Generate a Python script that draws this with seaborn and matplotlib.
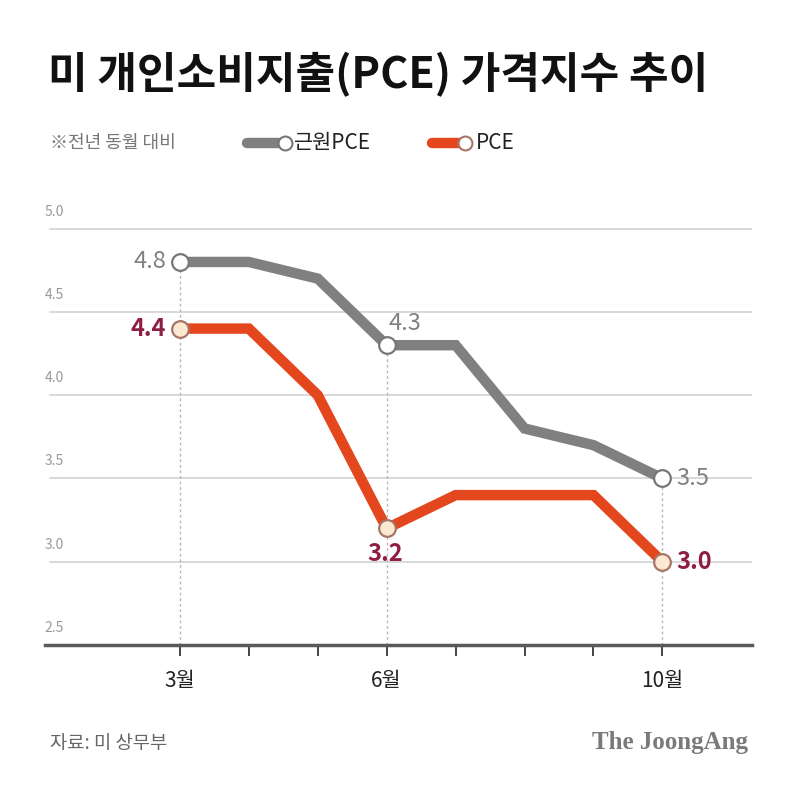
import matplotlib
matplotlib.use("Agg")
import matplotlib.pyplot as plt
import seaborn as sns
import pandas as pd
from matplotlib.lines import Line2D
import matplotlib.transforms as mtransforms

months = [3, 4, 5, 6, 7, 8, 9, 10]
core_pce = [4.8, 4.8, 4.7, 4.3, 4.3, 3.8, 3.7, 3.5]
pce = [4.4, 4.4, 4.0, 3.2, 3.4, 3.4, 3.4, 3.0]
series_names = ["근원PCE", "PCE"]
xtick_months = [3, 6, 10]
xtick_labels = ["3월", "6월", "10월"]
yticks = [2.5, 3.0, 3.5, 4.0, 4.5, 5.0]
label_months = [3, 6, 10]

title = "미 개인소비지출(PCE) 가격지수 추이"
subtitle = "※전년 동월 대비"
source = "자료: 미 상무부"
brand = "The JoongAng"

GREY = "#808080"
ORANGE = "#e4461d"
DARKRED = "#8e1f42"

sns.set_theme(style="white")
plt.rcParams['font.family'] = ['Noto Sans CJK KR', 'DejaVu Sans']

df = pd.DataFrame({
    "month": months * 2,
    "value": core_pce + pce,
    "series": [series_names[0]] * len(months) + [series_names[1]] * len(months),
})

fig = plt.figure(figsize=(8, 7.92), dpi=100)
ax = fig.add_axes([0.056, 1 - 645 / 792, 0.94 - 0.056, (645 - 212) / 792])

ax.set_xlim(1.04, 11.3)
ax.set_ylim(2.5, 5.1)

blend = mtransforms.blended_transform_factory(ax.transAxes, ax.transData)
# gridlines
for y in yticks[1:]:
    ax.axhline(y, xmin=0.007, xmax=1, color="#d6d6d6", lw=1.3, zorder=0)
for y in yticks:
    ax.text(0.0, y + 0.06, f"{y:.1f}", transform=blend,
            fontsize=10, color="#9a9a9a", ha="left", va="bottom")

# dotted verticals
for m in label_months:
    i = months.index(m)
    ax.plot([m, m], [2.5, core_pce[i]], color="#b8b8b8", lw=1, ls=(0, (2, 2)), zorder=1)

sns.lineplot(data=df, x="month", y="value", hue="series",
             palette={series_names[0]: GREY, series_names[1]: ORANGE},
             linewidth=7.5, ax=ax, legend=False, zorder=2)
for line in ax.get_lines()[-2:]:
    line.set_solid_joinstyle("miter")
    line.set_solid_capstyle("butt")

# markers
for m in label_months:
    i = months.index(m)
    ax.plot(m, core_pce[i], marker="o", ms=12, mfc="white", mec="#777777", mew=1.6, zorder=5)
    ax.plot(m, pce[i], marker="o", ms=12, mfc="#fde9d2", mec="#a5756a", mew=1.6, zorder=5)

# value labels
lab_kw = dict(fontsize=17)
ax.text(3 - 0.2, 4.8, "4.8", color=GREY, ha="right", va="center", **lab_kw)
ax.text(3 - 0.2, 4.4, "4.4", color=DARKRED, ha="right", va="center", fontweight="bold", **lab_kw)
ax.text(6 + 0.02, 4.36, "4.3", color=GREY, ha="left", va="bottom", **lab_kw)
ax.text(6 - 0.02, 3.12, "3.2", color=DARKRED, ha="center", va="top", fontweight="bold", **lab_kw)
ax.text(10 + 0.2, 3.5, "3.5", color=GREY, ha="left", va="center", **lab_kw)
ax.text(10 + 0.2, 3.0, "3.0", color=DARKRED, ha="left", va="center", fontweight="bold", **lab_kw)

# axis styling
for s in ["top", "right", "left"]:
    ax.spines[s].set_visible(False)
ax.spines["bottom"].set_color("#5a5a5a")
ax.spines["bottom"].set_linewidth(2.5)
ax.set_yticks([])
ax.set_xticks(months)
ax.set_xticklabels([xtick_labels[xtick_months.index(m)] if m in xtick_months else "" for m in months],
                   fontsize=15, color="#222222")
ax.tick_params(axis="x", direction="out", length=8, width=1.4, color="#444444", pad=10, bottom=True)
ax.set_xlabel("")
ax.set_ylabel("")
ax.grid(False)

# title / subtitle / legend
fig.text(48 / 800, 1 - 75 / 792, title, fontsize=31, fontweight="bold", color="#111111", ha="left", va="center")
fig.text(50 / 800, 1 - 143 / 792, subtitle, fontsize=13, color="#777777", ha="left", va="center")

ly = 1 - 143 / 792
fig.add_artist(Line2D([247 / 800, 280 / 800], [ly, ly], color=GREY, lw=7.5, solid_capstyle="round", transform=fig.transFigure))
fig.add_artist(Line2D([285 / 800], [ly], marker="o", ms=10, mfc="white", mec="#777777", mew=1.5, transform=fig.transFigure))
fig.text(294 / 800, ly, series_names[0], fontsize=15, color="#222222", ha="left", va="center")
fig.add_artist(Line2D([432 / 800, 460 / 800], [ly, ly], color=ORANGE, lw=7.5, solid_capstyle="round", transform=fig.transFigure))
fig.add_artist(Line2D([465 / 800], [ly], marker="o", ms=10, mfc="white", mec="#a5756a", mew=1.5, transform=fig.transFigure))
fig.text(476 / 800, ly, series_names[1], fontsize=15, color="#222222", ha="left", va="center")

# footer
fig.text(50 / 800, 1 - 743 / 792, source, fontsize=13.5, color="#666666", ha="left", va="center")
fig.text(748 / 800, 1 - 743 / 792, brand, fontsize=18, fontweight="bold", color="#7a7a7a",
         ha="right", va="center", family=["Liberation Serif", "DejaVu Serif"])

fig.savefig("out.png", dpi=100, facecolor="white")
